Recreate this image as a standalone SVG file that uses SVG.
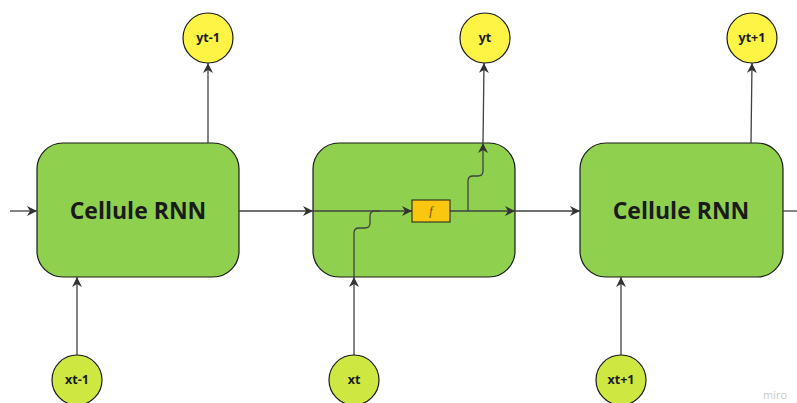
<svg xmlns="http://www.w3.org/2000/svg" width="797" height="403" viewBox="0 0 797 403">
<defs>
<marker id="ah" viewBox="0 0 10 10" refX="10" refY="5" markerWidth="10" markerHeight="10" markerUnits="userSpaceOnUse" orient="auto">
<path d="M0,0 L10,5 L0,10 L3,5 Z" fill="#333"/>
</marker>
</defs>
<style>
.cell{fill:#8fd14f;stroke:#1a1a1a;stroke-width:1.2}
.out{fill:#fef445;stroke:#1a1a1a;stroke-width:1.2}
.in{fill:#cee741;stroke:#1a1a1a;stroke-width:1.2}
.fn{fill:#fac710;stroke:#1a1a1a;stroke-width:1}
.big{font-family:"Open Sans","Liberation Sans",sans-serif;font-weight:bold;font-size:23px;fill:#1a1a1a;text-anchor:middle}
.lbl{font-family:"Open Sans","Liberation Sans",sans-serif;font-weight:bold;font-size:12.5px;fill:#1a1a1a;text-anchor:middle}
.c{fill:none;stroke:#414141;stroke-width:1.3}
</style>
<rect width="797" height="403" fill="#ffffff"/>
<g id="cell1">
<rect class="cell" x="37" y="143" width="202" height="134" rx="26"/>
<text class="big" x="138" y="219">Cellule RNN</text>
</g>
<g id="cell2">
<rect class="cell" x="313" y="143" width="202" height="134" rx="26"/>
</g>
<g id="cell3">
<rect class="cell" x="580" y="143" width="203" height="134" rx="26"/>
<text class="big" x="681" y="219">Cellule RNN</text>
</g>
<g id="connectors">
<path class="c" d="M10,211 L37,211" marker-end="url(#ah)"/>
<path class="c" d="M239,211 L313,211" marker-end="url(#ah)"/>
<path class="c" d="M313,211 L412,211" marker-end="url(#ah)"/>
<path class="c" d="M450,211 L515,211" marker-end="url(#ah)"/>
<path class="c" d="M515,211 L580,211" marker-end="url(#ah)"/>
<path class="c" d="M783,211 L797,211"/>
<path class="c" d="M208,143 L208,63" marker-end="url(#ah)"/>
<path class="c" d="M468,211 L468,181 Q468,176 473,176 L478,176 Q483,176 483,171 L483,143" marker-end="url(#ah)"/>
<path class="c" d="M483,143 L484,63" marker-end="url(#ah)"/>
<path class="c" d="M751,143 L752,63" marker-end="url(#ah)"/>
<path class="c" d="M77,355 L77,277" marker-end="url(#ah)"/>
<path class="c" d="M354,355 L354,277" marker-end="url(#ah)"/>
<path class="c" d="M354,277 L354,233 Q354,228 359,228 L365,228 Q370,228 370,223 L370,216 Q370,211 375,211 L380,211"/>
<path class="c" d="M621,355 L621,277" marker-end="url(#ah)"/>
</g>
<g id="f">
<rect class="fn" x="412" y="200" width="38" height="22"/>
<text x="431" y="215" font-family="'Liberation Serif',serif" font-style="italic" font-size="12" fill="#5a4a00" text-anchor="middle">f</text>
</g>
<g id="yt-1"><circle class="out" cx="208" cy="38" r="25"/><text class="lbl" x="208" y="42">yt-1</text></g>
<g id="yt"><circle class="out" cx="485" cy="38" r="25"/><text class="lbl" x="485" y="42">yt</text></g>
<g id="yt+1"><circle class="out" cx="752" cy="38" r="25"/><text class="lbl" x="752" y="42">yt+1</text></g>
<g id="xt-1"><circle class="in" cx="77" cy="380" r="25"/><text class="lbl" x="77" y="384">xt-1</text></g>
<g id="xt"><circle class="in" cx="354" cy="380" r="25"/><text class="lbl" x="354" y="384">xt</text></g>
<g id="xt+1"><circle class="in" cx="621" cy="380" r="25"/><text class="lbl" x="621" y="384">xt+1</text></g>
<text x="775" y="399" font-family="'Open Sans','Liberation Sans',sans-serif" font-size="11" fill="#c8c8c8" text-anchor="middle">miro</text>
</svg>
